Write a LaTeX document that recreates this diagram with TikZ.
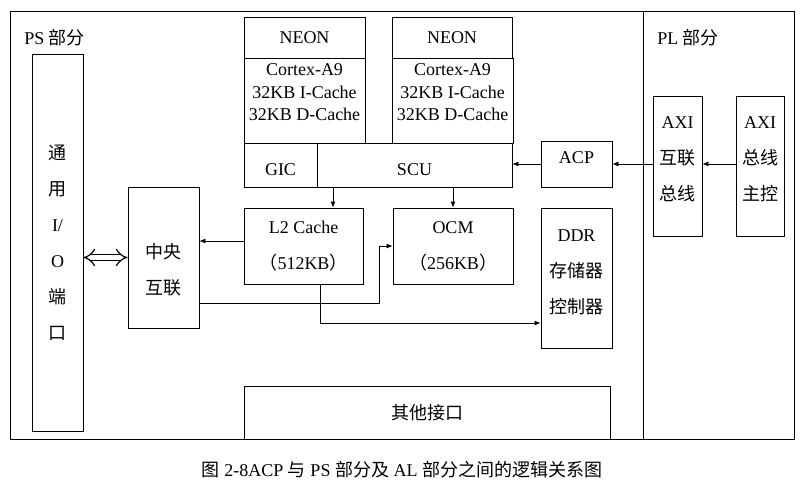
\documentclass[tikz,border=0pt]{standalone}
\usepackage{fontspec}
\setmainfont{Liberation Serif}
\newfontfamily\cjk{Noto Sans CJK SC}
\usetikzlibrary{arrows.meta, calc}

\begin{document}
\begin{tikzpicture}[x=1pt, y=-1pt, line width=0.8pt,
    blk/.style={draw, inner sep=0pt, align=center, font=\fontsize{18pt}{22.5pt}\selectfont},
    txt/.style={align=center, inner sep=0pt, font=\fontsize{18pt}{22.5pt}\selectfont},
    tall/.style={align=center, inner sep=0pt, font=\fontsize{18pt}{36pt}\selectfont},
    arr/.style={-{Latex[length=6pt, width=5pt]}}]
    \useasboundingbox (0,0) rectangle (803,496);

    % frame, PS / PL
    \node[draw, minimum width=784pt, minimum height=428pt] (frame) at (402,225) {};
    \coordinate (split) at (643,11);
    \draw (split) -- (split |- frame.south);
    \node[txt, anchor=west] (ps) at (24,38) {PS {\cjk 部分}};
    \node[txt, anchor=west] (pl) at (657,38) {PL {\cjk 部分}};

    % I/O and central interconnect
    \node[blk, tall, minimum width=51pt, minimum height=377pt] (io) at (57.5,242.5)
        {{\cjk 通}\\{\cjk 用}\\I/\\O\\{\cjk 端}\\{\cjk 口}};
    \node[blk, minimum width=71pt, minimum height=141pt] (zy) at (163.5,257.5) {};
    \node[tall] (zy-t) at (163.5,270) {{\cjk 中央}\\{\cjk 互联}};

    % two cores
    \node[blk, minimum width=121pt, minimum height=41pt] (neon1) at (304.5,37.5) {NEON};
    \node[blk, minimum width=121pt, minimum height=85pt] (cpu1) at (304.5,100.5) {};
    \node[txt] (cpu1-t) at (304.5,92.5) {Cortex-A9\\32KB I-Cache\\32KB D-Cache};
    \node[blk, minimum width=120pt, minimum height=41pt] (neon2) at (452,37.5) {NEON};
    \node[blk, minimum width=121pt, minimum height=85pt] (cpu2) at (452.5,100.5) {};
    \node[txt] (cpu2-t) at (452.5,92.5) {Cortex-A9\\32KB I-Cache\\32KB D-Cache};

    \node[blk, minimum width=73pt, minimum height=44pt] (gic) at (280.5,165) {};
    \node[txt] (gic-t) at (280.5,170) {GIC};
    \node[blk, minimum width=195pt, minimum height=44pt] (scu) at (414.5,165) {};
    \node[txt] (scu-t) at (414.5,170) {SCU};

    % memories
    \node[blk, tall, minimum width=119pt, minimum height=76pt] (l2) at (303.5,246)
        {L2 Cache\\{\cjk （}512KB{\cjk ）}};
    \node[blk, tall, minimum width=120pt, minimum height=76pt] (ocm) at (453,246)
        {OCM\\{\cjk （}256KB{\cjk ）}};
    \node[blk, minimum width=71pt, minimum height=140pt] (ddr) at (576.5,278) {};
    \node[tall] (ddr-t) at (576.5,272.5) {DDR\\{\cjk 存储器}\\{\cjk 控制器}};
    \node[blk, minimum width=366pt, minimum height=53pt] (other) at (427,412.5) {{\cjk 其他接口}};

    % ACP and PL side
    \node[blk, minimum width=71pt, minimum height=46pt] (acp) at (576.5,164) {};
    \node[txt] (acp-t) at (576.5,158) {ACP};
    \node[blk, minimum width=49pt, minimum height=140pt] (axi1) at (677.5,166) {};
    \node[tall] (axi1-t) at (677.5,159) {AXI\\{\cjk 互联}\\{\cjk 总线}};
    \node[blk, minimum width=48pt, minimum height=140pt] (axi2) at (760,166) {};
    \node[tall] (axi2-t) at (760,159) {AXI\\{\cjk 总线}\\{\cjk 主控}};

    % connections
    \draw[arr] (axi2.west |- acp.east) -- (axi1.east |- acp.east);
    \draw[arr] (axi1.west |- acp.east) -- (acp.east);
    \draw[arr] (acp.west) -- (acp.west -| scu.east);
    \draw[arr] ([xshift=29.5pt]l2.north |- scu.south) -- ([xshift=29.5pt]l2.north);
    \draw[arr] (ocm.north |- scu.south) -- (ocm.north);
    \draw[arr] ([yshift=5pt]l2.west) -- ([yshift=5pt]l2.west -| zy.east);
    \draw[arr] ([yshift=-45.5pt]zy.east) -| ([xshift=-13pt]ocm.west) -- (ocm.west);
    \draw[arr] ([xshift=16.5pt]l2.south) |- ([yshift=-45pt]ddr.west);
    \draw[double, double distance=5pt, line width=1.2pt, {Implies}-{Implies}] (io.east |- zy.west) -- (zy.west);

    \node[font=\fontsize{18pt}{18pt}\selectfont] (cap) at (402,470)
        {{\cjk 图} 2-8ACP {\cjk 与} PS {\cjk 部分及} AL {\cjk 部分之间的逻辑关系图}};
\end{tikzpicture}
\end{document}
